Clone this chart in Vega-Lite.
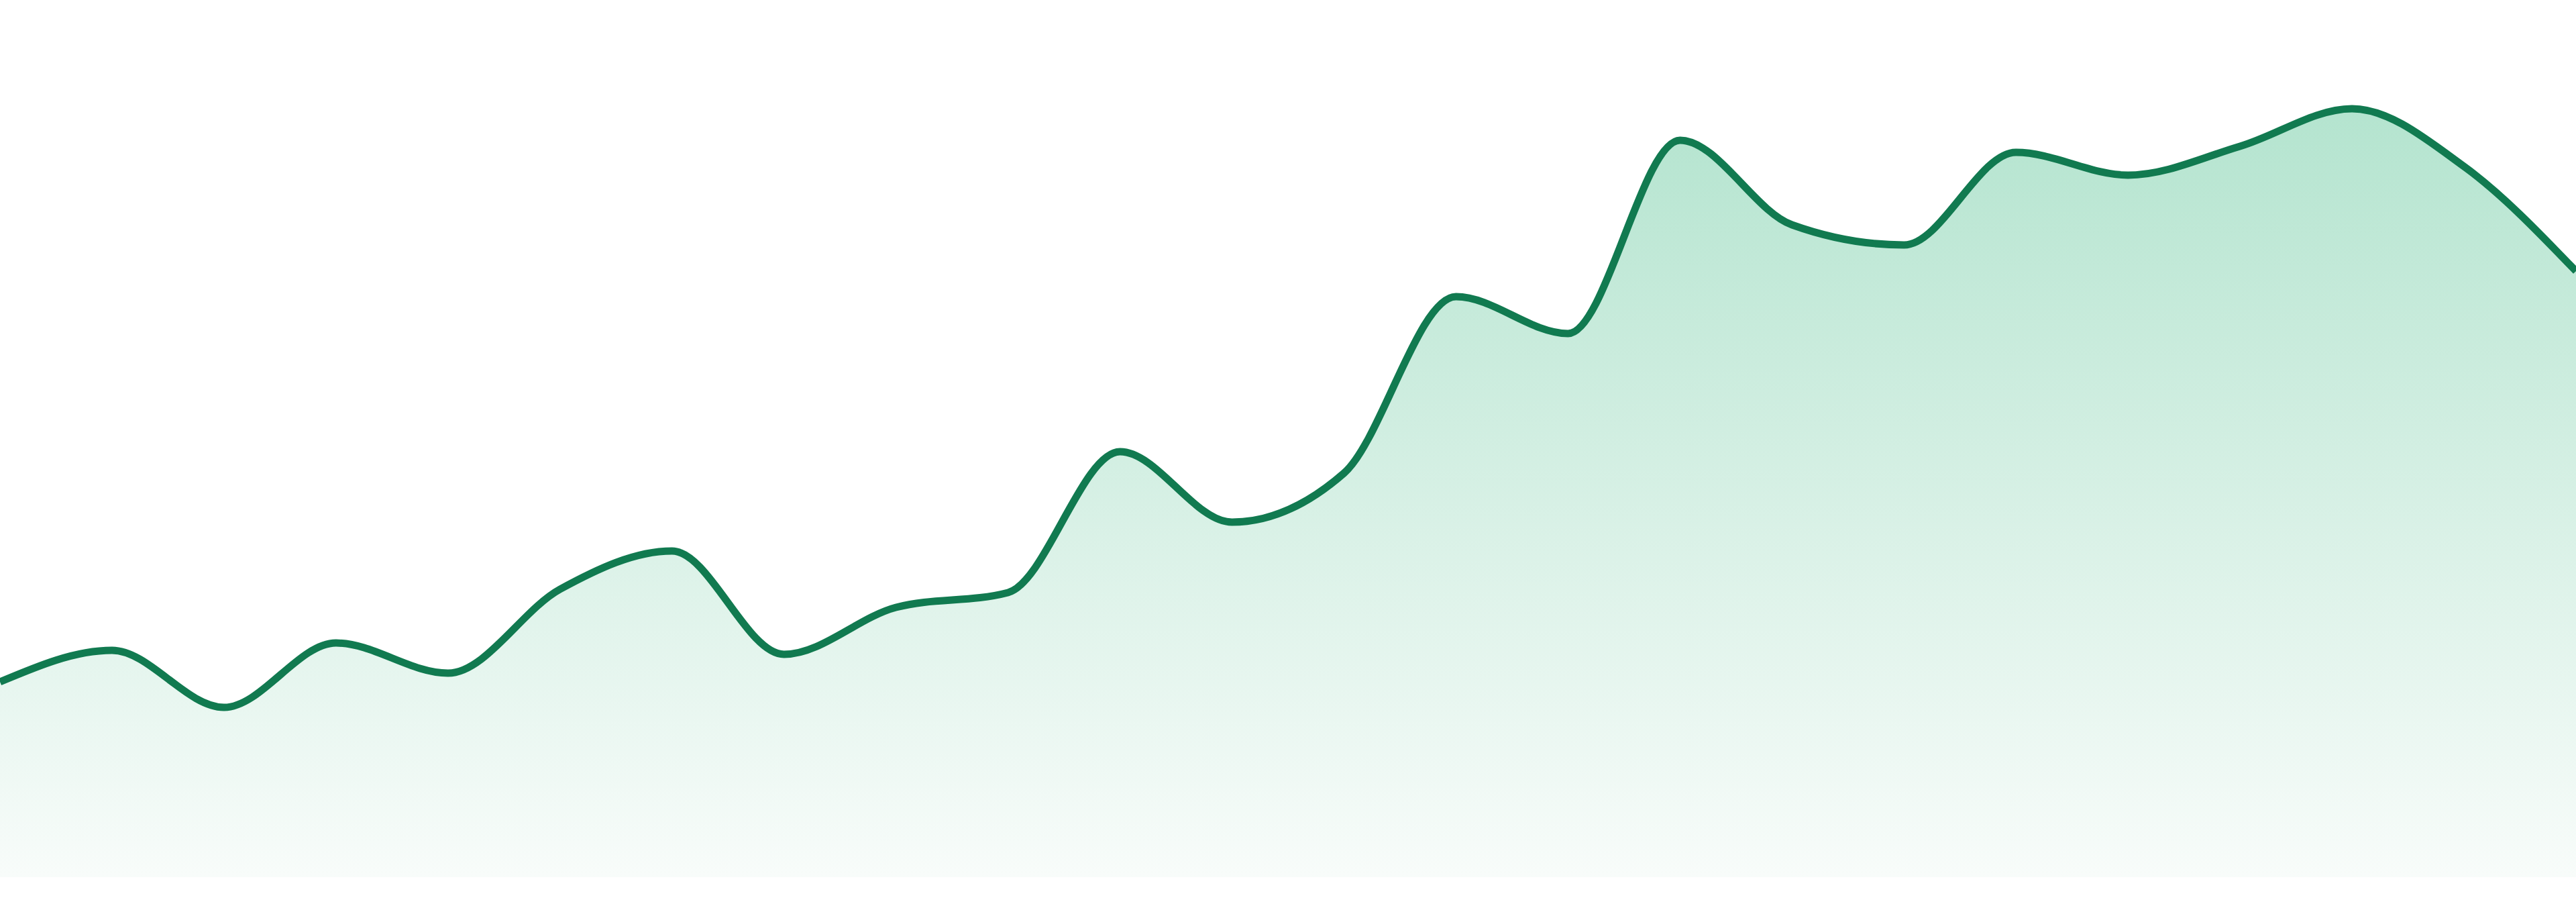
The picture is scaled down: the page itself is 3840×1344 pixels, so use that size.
{
  "$schema": "https://vega.github.io/schema/vega-lite/v6.json",
  "width": 3840,
  "height": 1307,
  "autosize": {"type": "none"},
  "padding": {"left": 0, "top": 0, "right": 0, "bottom": 37},
  "background": "white",
  "config": {"view": {"stroke": null}},
  "data": {
    "values": [
      {"period": 0, "value": 291},
      {"period": 1, "value": 338},
      {"period": 2, "value": 253},
      {"period": 3, "value": 349},
      {"period": 4, "value": 304},
      {"period": 5, "value": 429},
      {"period": 6, "value": 486},
      {"period": 7, "value": 332},
      {"period": 8, "value": 402},
      {"period": 9, "value": 424},
      {"period": 10, "value": 634},
      {"period": 11, "value": 529},
      {"period": 12, "value": 602},
      {"period": 13, "value": 865},
      {"period": 14, "value": 810},
      {"period": 15, "value": 1098},
      {"period": 16, "value": 972},
      {"period": 17, "value": 942},
      {"period": 18, "value": 1080},
      {"period": 19, "value": 1046},
      {"period": 20, "value": 1089},
      {"period": 21, "value": 1145},
      {"period": 22, "value": 1059},
      {"period": 23, "value": 903}
    ]
  },
  "encoding": {
    "x": {"field": "period", "type": "quantitative", "scale": {"domain": [0, 23], "nice": false, "zero": false}, "axis": null},
    "y": {"field": "value", "type": "quantitative", "scale": {"domain": [0, 1307], "nice": false}, "axis": null}
  },
  "layer": [
    {
      "mark": {
        "type": "area",
        "interpolate": "monotone",
        "color": {
          "gradient": "linear",
          "x1": 0, "y1": 0, "x2": 0, "y2": 1,
          "stops": [
            {"offset": 0, "color": "#b4e4cf"},
            {"offset": 1, "color": "#f8fcfa"}
          ]
        }
      }
    },
    {
      "mark": {"type": "line", "interpolate": "monotone", "color": "#117a50", "strokeWidth": 11}
    }
  ]
}
